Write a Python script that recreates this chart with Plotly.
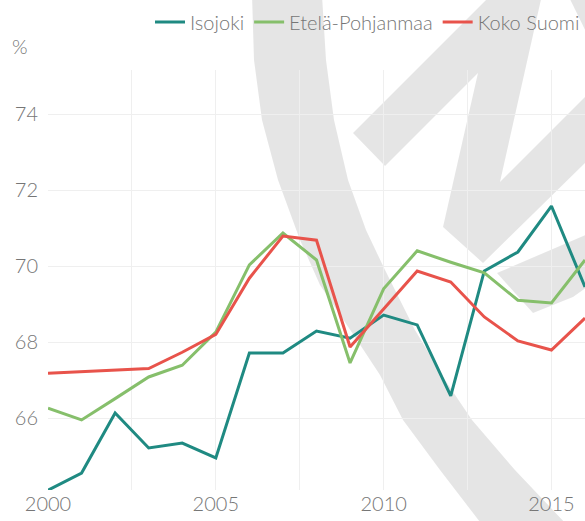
import plotly.graph_objects as go

# Työllisyysaste (%) 2000-2016
years = list(range(2000, 2017))
isojoki = [64.1, 64.55, 66.13, 65.21, 65.34, 64.95, 67.71, 67.71, 68.29, 68.1,
           68.71, 68.45, 66.58, 69.87, 70.37, 71.58, 69.45]
etela_pohjanmaa = [66.26, 65.95, 66.51, 67.08, 67.39, 68.26, 70.03, 70.87, 70.16, 67.45,
                   69.4, 70.4, 70.1, 69.82, 69.1, 69.03, 70.16]
koko_suomi = [67.18, 67.22, 67.26, 67.3, 67.73, 68.2, 69.68, 70.79, 70.68, 67.87,
              68.87, 69.87, 69.58, 68.66, 68.03, 67.79, 68.63]

series = [
    ("Isojoki", isojoki, "#1f8a82"),
    ("Etelä-Pohjanmaa", etela_pohjanmaa, "#86bf6b"),
    ("Koko Suomi", koko_suomi, "#e8534b"),
]

W, H = 585, 521
M = dict(l=48, r=0, t=70, b=31)
FONT = "Lato, 'Open Sans', sans-serif"
GRAY = "#767676"
GRID = "#efefef"


def to_paper(pts):
    # taustalogon pikselit -> paper-koordinaatit
    pw = W - M["l"] - M["r"]
    ph = H - M["t"] - M["b"]
    return [((x - M["l"]) / pw, (H - M["b"] - y) / ph) for x, y in pts]


def path(pts):
    p = to_paper(pts)
    return "M " + " L ".join(f"{x:.4f},{y:.4f}" for x, y in p) + " Z"


# taustalla oleva vesileima (harmaa logo)
crescent = [(252, -5), (254, 60), (262, 120), (278, 180), (300, 240), (320, 285),
            (357, 340), (380, 375), (403, 420), (440, 470), (483, 526),
            (568, 526), (515, 470), (472, 420), (445, 380), (415, 330), (385, 270),
            (366, 230), (348, 180), (334, 120), (326, 60), (322, -5)]
bolt = [(353, 133), (491, -5), (542, -5), (500, 182), (590, 92), (590, 158),
        (483, 263), (443, 227), (478, 73), (385, 166)]
arm = [(497, 273), (590, 233), (590, 285), (573, 297), (533, 313)]
corner = [(568, -5), (590, -5), (590, 40)]

fig = go.Figure()
for name, vals, color in series:
    fig.add_trace(go.Scatter(
        x=years, y=vals, name=name, mode="lines",
        line=dict(color=color, width=3),
    ))

for shp in (crescent, bolt, arm, corner):
    fig.add_shape(type="path", path=path(shp), xref="paper", yref="paper",
                  fillcolor="rgba(0,0,0,0.1)", line=dict(width=0), layer="between")

fig.update_layout(
    width=W, height=H,
    margin=M,
    plot_bgcolor="white", paper_bgcolor="white",
    font=dict(family=FONT, size=20, color=GRAY, weight=300),
    showlegend=True,
    legend=dict(orientation="h", x=1.0, xanchor="right", y=0.995, yanchor="top",
                yref="container", font=dict(size=20, color=GRAY, weight=300),
                bgcolor="rgba(0,0,0,0)", itemwidth=30),
    annotations=[dict(text="%", xref="paper", yref="paper", x=0, y=1,
                      xanchor="right", yanchor="bottom", xshift=-18, yshift=10,
                      showarrow=False, font=dict(size=20, color=GRAY, weight=300))],
)

fig.update_xaxes(range=[2000, 2016], dtick=5, tick0=2000, showgrid=True,
                 gridcolor=GRID, gridwidth=1, zeroline=False, showline=False,
                 ticks="", tickfont=dict(size=20, color=GRAY, weight=300),
                 minor=dict(dtick=2.5, tick0=2000, showgrid=True, gridcolor=GRID, gridwidth=1))
fig.update_yaxes(range=[64.105, 75.16], dtick=2, tick0=64, showgrid=True,
                 gridcolor=GRID, gridwidth=1, zeroline=False, showline=False,
                 ticks="", ticklabelstandoff=9,
                 tickfont=dict(size=20, color=GRAY, weight=300))

# sivun oletusmarginaali pois, jotta kuva täyttää ikkunan
fig.write_html("out.html", config={"displayModeBar": False},
               post_script="document.body.style.margin='0px';")
